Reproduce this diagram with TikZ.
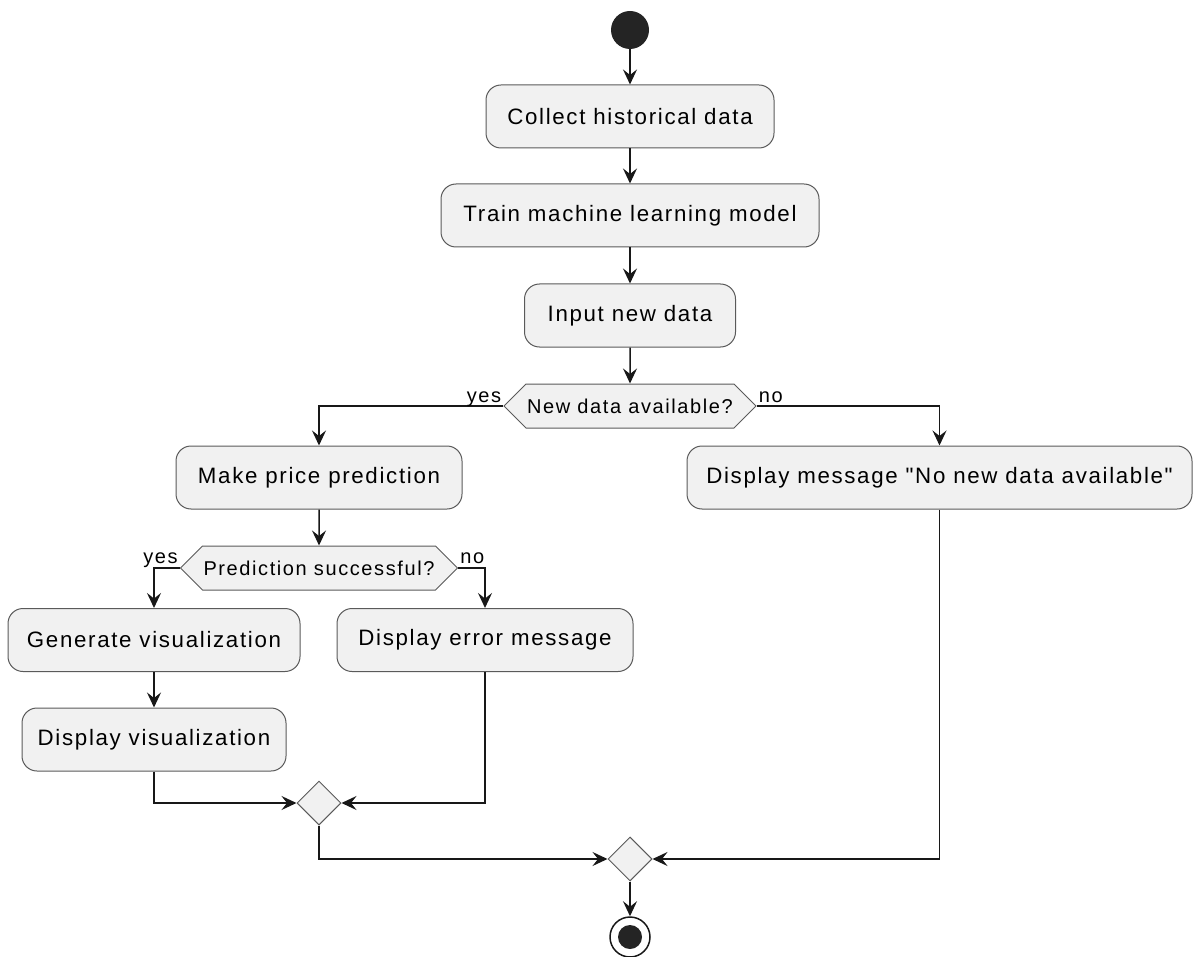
\documentclass[tikz,border=0pt]{standalone}
\usepackage{fontspec}
\setmainfont[LetterSpace=7.5, Ligatures=TeXOff]{Liberation Sans}
\newfontfamily\guardfont[LetterSpace=8]{Liberation Sans}
\usetikzlibrary{arrows.meta,shapes.geometric,shapes.symbols}
\definecolor{boxfill}{HTML}{F1F1F1}
\definecolor{boxline}{HTML}{5A5A5A}
\definecolor{ink}{HTML}{181818}

\begin{document}
\begin{tikzpicture}[x=1pt, y=-1pt, >={Stealth[length=15pt,width=14pt,inset=5.5pt]},
	every action/.style={draw=boxline, line width=1pt, fill=boxfill, rounded corners=15pt, minimum height=63pt, inner sep=0pt, font=\fontsize{22.3}{26}\selectfont},
	every choice/.style={signal, signal to=west and east, signal pointer angle=90, draw=boxline, line width=1pt, fill=boxfill, minimum height=44pt, inner sep=0pt, font=\guardfont\fontsize{20}{24}\selectfont},
	every merge/.style={diamond, aspect=1, draw=boxline, line width=1pt, fill=boxfill, minimum size=44pt, inner sep=0pt},
	every guard/.style={inner sep=0pt, font=\guardfont\fontsize{20}{24}\selectfont},
	flow/.style={->, draw=ink, line width=1.5pt}]
	\useasboundingbox (0,0) rectangle (1193,957);
	
	\node [circle, fill=ink!95, minimum size=38pt, inner sep=0pt] (start) at (630,30) {};
	
	\foreach \n/\t/\w/\y in {collect/Collect historical data/288/116.5, train/Train machine learning model/378/215.5, input/Input new data/211/315.5}
	\node [every action/.try, minimum width=\w pt] (\n) at (630,\y) {\t};
	
	\node [every choice/.try, minimum width=252pt] (newdata) at (630,406) {New data available?};
	
	\node [every action/.try, minimum width=286pt] (predict) at (319,477.5) {Make price prediction};
	\node [every action/.try, minimum width=505pt] (nodata) at (939.5,477.5) {Display message "No new data available"};
	
	\node [every choice/.try, minimum width=277pt] (success) at (319,568) {Prediction successful?};
	
	\node [every action/.try, minimum width=292pt] (genvis) at (154,640) {Generate visualization};
	\node [every action/.try, minimum width=296pt] (error) at (485,640) {Display error message};
	\node [every action/.try, minimum width=264pt] (showvis) at (154,739.5) {Display visualization};
	
	\node [every merge/.try] (merge-1) at (319,803) {};
	\node [every merge/.try] (merge-2) at (630,859) {};
	
	\node [circle, draw=ink, line width=1.5pt, minimum size=40pt, inner sep=0pt] (stop) at (630,937) {};
	\node [circle, fill=ink!95, minimum size=24pt, inner sep=0pt] (stopdot) at (stop) {};
	
	\draw [flow] (start) -- (collect);
	\draw [flow] (collect) -- (train);
	\draw [flow] (train) -- (input);
	\draw [flow] (input) -- (newdata);
	
	\draw [flow] (newdata.west) -| (predict.north);
	\draw [flow] (newdata.east) -| (nodata.north);
	\draw [flow] (predict) -- (success);
	
	\draw [flow] (success.west) -| (genvis.north);
	\draw [flow] (success.east) -| (error.north);
	\draw [flow] (genvis) -- (showvis);
	
	\draw [flow] (showvis.south) |- (merge-1.west);
	\draw [flow] (error.south) |- (merge-1.east);
	\draw [flow] (merge-1.south) |- (merge-2.west);
	\draw [flow] (nodata.south) |- (merge-2.east);
	\draw [flow] (merge-2) -- (stop);
	
	\node [every guard/.try, anchor=base east] (yes-1) at ([xshift=-2pt,yshift=4pt]newdata.west) {yes};
	\node [every guard/.try, anchor=base west] (no-1) at ([xshift=2pt,yshift=4pt]newdata.east) {no};
	\node [every guard/.try, anchor=base east] (yes-2) at ([xshift=-2pt,yshift=5pt]success.west) {yes};
	\node [every guard/.try, anchor=base west] (no-2) at ([xshift=2pt,yshift=5pt]success.east) {no};
\end{tikzpicture}
\end{document}
